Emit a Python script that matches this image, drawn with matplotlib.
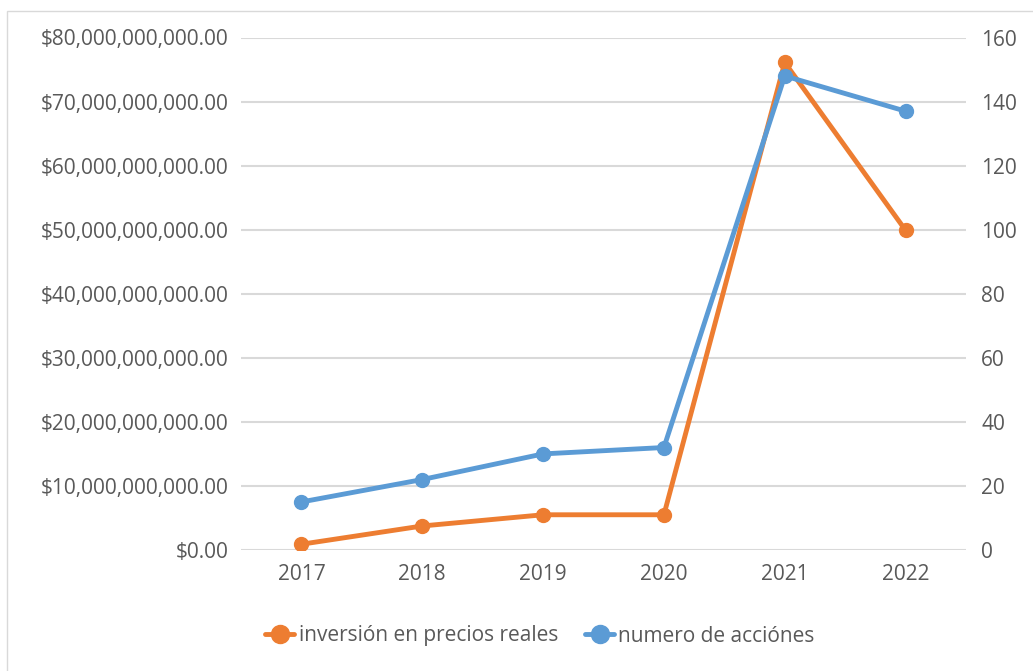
import matplotlib
matplotlib.use("Agg")
import matplotlib.pyplot as plt
from matplotlib.patches import Rectangle
from matplotlib.ticker import FuncFormatter

plt.rcParams['font.family'] = ['Open Sans', 'DejaVu Sans']

years = ["2017", "2018", "2019", "2020", "2021", "2022"]
inversion = [0.9e9, 3.75e9, 5.5e9, 5.5e9, 76.1e9, 49.9e9]
acciones = [15, 22, 30, 32, 148, 137]

orange = "#ED7D31"
blue = "#5B9BD5"
grid = "#D9D9D9"
txt = "#595959"
fs = 15

fig = plt.figure(figsize=(10.33, 6.71), dpi=100)
fig.patches.append(Rectangle((7 / 1033, -0.1), 1.2, 1 - 11 / 671 + 0.1,
                             transform=fig.transFigure, fill=False,
                             edgecolor=grid, linewidth=1))

ax = fig.add_axes([241 / 1033, 1 - 550 / 671, 725 / 1033, 512.5 / 671])
ax2 = ax.twinx()

x = range(len(years))
l1, = ax.plot(x, inversion, color=orange, lw=3.5, marker="o", ms=10,
              solid_capstyle="round", label="inversión en precios reales")
l2, = ax2.plot(x, acciones, color=blue, lw=3.5, marker="o", ms=10,
               solid_capstyle="round", label="numero de acciónes")

ax.set_xlim(-0.5, len(years) - 0.5)
ax.set_ylim(0, 80e9)
ax2.set_ylim(0, 160)
ax.set_yticks([i * 10e9 for i in range(9)])
ax2.set_yticks(range(0, 161, 20))
ax.yaxis.set_major_formatter(FuncFormatter(lambda v, p: f"${v:,.2f}"))
ax.set_xticks(list(x))
ax.set_xticklabels(years)

for a in (ax, ax2):
    for s in a.spines.values():
        s.set_visible(False)
    a.tick_params(length=0, labelsize=fs, labelcolor=txt)
ax.tick_params(axis="y", pad=9)
ax2.tick_params(axis="y", pad=11)
ax.tick_params(axis="x", pad=10)
ax.yaxis.grid(True, color=grid, lw=1.5)
ax.set_axisbelow(True)

fig.legend([l1, l2], [l1.get_label(), l2.get_label()], loc="center",
           bbox_to_anchor=(540 / 1033, 1 - 636 / 671), ncol=2, frameon=False,
           fontsize=fs, labelcolor=txt, handlelength=1.4, handletextpad=0.2,
           columnspacing=1.3, markerscale=1.3)

fig.savefig("out.png", dpi=100)
